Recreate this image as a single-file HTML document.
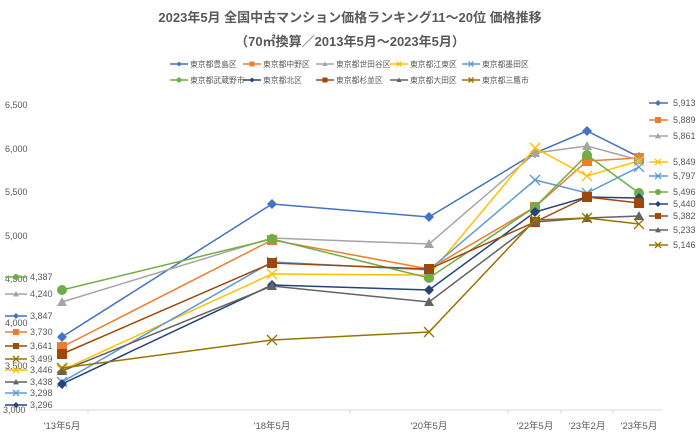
<!DOCTYPE html><html><head><meta charset="utf-8"><style>body{margin:0;background:#fff}svg{display:block}text{font-family:"Liberation Sans","Noto Sans CJK JP",sans-serif;fill:#595959}</style></head><body>
<svg width="700" height="442" viewBox="0 0 700 442" xmlns="http://www.w3.org/2000/svg">
<text x="350" y="22" text-anchor="middle" font-size="13" font-weight="bold">2023年5月 全国中古マンション価格ランキング11～20位 価格推移</text>
<text x="350" y="46" text-anchor="middle" font-size="13" font-weight="bold">（70㎡換算／2013年5月～2023年5月）</text>
<g font-size="7.8" id="leg"></g>
<g font-size="9">
<text x="5" y="108">6,500</text><text x="5" y="152">6,000</text><text x="5" y="195">5,500</text><text x="5" y="239">5,000</text><text x="5" y="282">4,500</text><text x="5" y="326">4,000</text><text x="5" y="369">3,500</text><text x="3" y="413">3,000</text>
</g>
<line x1="35" y1="410" x2="662" y2="410" stroke="#d9d9d9"/>
<g stroke="#d9d9d9"><line x1="88" y1="410" x2="88" y2="414"/><line x1="350" y1="410" x2="350" y2="414"/><line x1="508" y1="410" x2="508" y2="414"/><line x1="561" y1="410" x2="561" y2="414"/><line x1="613" y1="410" x2="613" y2="414"/></g>
<g font-size="9.5" text-anchor="middle"><text x="62" y="429">'13年5月</text><text x="272" y="429">'18年5月</text><text x="429" y="429">'20年5月</text><text x="535" y="429">'22年5月</text><text x="587" y="429">'23年2月</text><text x="639" y="429">'23年5月</text></g>
<g id="series"></g>
</svg>
<script>
const xs=[62,272,429,535,587,639];
const S=[
["東京都豊島区","#4472C4","d",[337,204,217,153,131,157],"3,847",316,"5,913",103],
["東京都中野区","#ED7D31","s",[347,240,269,207,161,158],"3,730",332,"5,889",120],
["東京都世田谷区","#A5A5A5","t",[302,238,244,153,146,160],"4,240",294,"5,861",136],
["東京都江東区","#FFC000","x",[370,274,275,148,176,161],"3,446",370,"5,849",162],
["東京都墨田区","#5B9BD5","x",[382,262,270,180,193,167],"3,298",393,"5,797",176],
["東京都武蔵野市","#70AD47","c",[290,239,278,207,155,193],"4,387",277,"5,496",192],
["東京都北区","#264478","d",[384,285,290,212,197,198],"3,296",405,"5,440",204],
["東京都杉並区","#9E480E","s",[354,263,269,222,197,203],"3,641",346,"5,382",216],
["東京都大田区","#636363","t",[371,286,302,222,218,216],"3,438",382,"5,233",230],
["東京都三鷹市","#997300","x",[368,340,332,220,218,224],"3,499",359,"5,146",245]];
const ns="http://www.w3.org/2000/svg";
function el(p,t,a,txt){const e=document.createElementNS(ns,t);for(const k in a)e.setAttribute(k,a[k]);if(txt)e.textContent=txt;p.appendChild(e);return e;}
function mk(g,type,x,y,c,r){
 if(type=="d")el(g,"polygon",{points:`${x},${y-r} ${x+r},${y} ${x},${y+r} ${x-r},${y}`,fill:c});
 else if(type=="s")el(g,"rect",{x:x-r,y:y-r,width:2*r,height:2*r,fill:c});
 else if(type=="t")el(g,"polygon",{points:`${x},${y-r} ${x+r},${y+r*0.8} ${x-r},${y+r*0.8}`,fill:c});
 else if(type=="c")el(g,"circle",{cx:x,cy:y,r:r,fill:c});
 else {el(g,"path",{d:`M${x-r},${y-r}L${x+r},${y+r}M${x+r},${y-r}L${x-r},${y+r}`,stroke:c,"stroke-width":1.3,fill:"none"});}
}
const g=document.getElementById("series"),lg=document.getElementById("leg");
const lx=[170,243,316,390,462];
S.forEach((s,i)=>{
 const [n,c,t,ys,l1,y1,l2,y2]=s;
 el(g,"polyline",{points:xs.map((x,j)=>x+","+ys[j]).join(" "),fill:"none",stroke:c,"stroke-width":1.5});
 xs.forEach((x,j)=>mk(g,t,x,ys[j],c,5));
 el(g,"line",{x1:5,y1:y1,x2:27,y2:y1,stroke:c,"stroke-width":1.5});mk(g,t,16,y1,c,3);
 el(g,"text",{x:30,y:y1+3,"font-size":9},l1);
 el(g,"line",{x1:649,y1:y2,x2:668,y2:y2,stroke:c,"stroke-width":1.5});mk(g,t,658,y2,c,3);
 el(g,"text",{x:673,y:y2+3,"font-size":9},l2);
 const row=i<5?0:1,col=i%5,x=lx[col],y=row?80:64;
 el(lg,"line",{x1:x,y1:y,x2:x+18,y2:y,stroke:c,"stroke-width":1.5});mk(lg,t,x+9,y,c,2.5);
 el(lg,"text",{x:x+20,y:y+3},n);
});
</script>
</body></html>
